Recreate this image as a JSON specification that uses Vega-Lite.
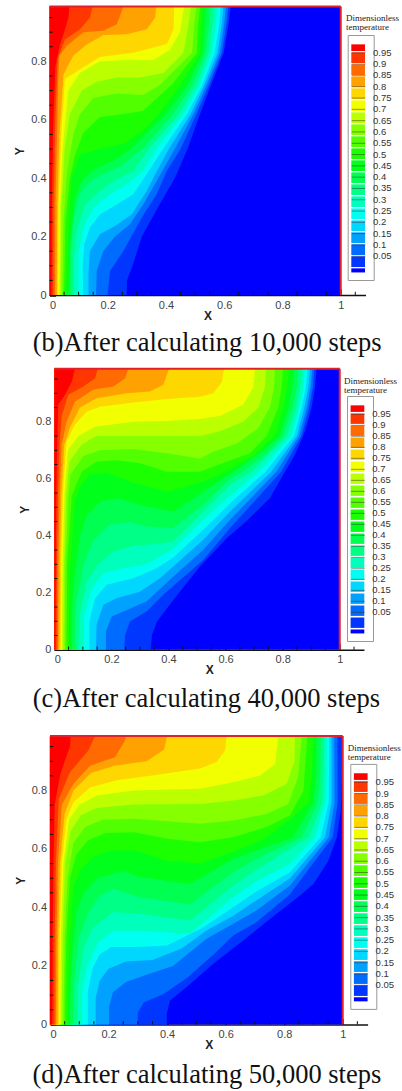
{"$schema":"https://vega.github.io/schema/vega-lite/v6.json","padding":{"left":13.5,"top":5.5,"right":0,"bottom":0},"background":"white","bounds":"flush","align":"none","spacing":73.3,"resolve":{"scale":{"color":"independent","stroke":"independent"},"legend":{"color":"independent","stroke":"independent"}},"config":{"view":{"stroke":null},"axis":{"zindex":1,"grid":false,"labelFont":"Liberation Sans","labelFontSize":11,"labelColor":"#444","tickColor":"#111","tickWidth":1.5,"tickSize":-6,"domainColor":"#111","domainWidth":1.5,"titleFont":"Liberation Sans","titleFontSize":12,"titleFontWeight":"bold","titleColor":"#222"},"legend":{"orient":"none","padding":1.3,"symbolSize":100,"labelOffset":13,"labelFont":"Liberation Sans","labelFontSize":9.5,"labelColor":"#333","labelBaseline":"middle","rowPadding":0}},"datasets":{"xm":[{"v":0.05},{"v":0.1},{"v":0.15},{"v":0.25},{"v":0.3},{"v":0.35},{"v":0.45},{"v":0.5},{"v":0.55},{"v":0.65},{"v":0.7},{"v":0.75},{"v":0.85},{"v":0.9},{"v":0.95},{"v":1.05}],"ym":[{"v":0.05},{"v":0.1},{"v":0.15},{"v":0.25},{"v":0.3},{"v":0.35},{"v":0.45},{"v":0.5},{"v":0.55},{"v":0.65},{"v":0.7},{"v":0.75},{"v":0.85},{"v":0.9},{"v":0.95}],
"b":[{"l":0,"x":0,"y":0},{"l":0,"x":1,"y":0},{"l":0,"x":1,"y":0.988},{"l":0,"x":0,"y":0.988},
{"l":0.05,"x":0.265,"y":0},{"l":0.05,"x":0.266,"y":0.05},{"l":0.05,"x":0.285,"y":0.1},{"l":0.05,"x":0.317,"y":0.2},{"l":0.05,"x":0.378,"y":0.31},{"l":0.05,"x":0.43,"y":0.4},{"l":0.05,"x":0.474,"y":0.5},{"l":0.05,"x":0.517,"y":0.62},{"l":0.05,"x":0.555,"y":0.72},{"l":0.05,"x":0.598,"y":0.83},{"l":0.05,"x":0.615,"y":0.93},{"l":0.05,"x":0.622,"y":0.988},{"l":0.05,"x":0,"y":0.988},{"l":0.05,"x":0,"y":0},
{"l":0.1,"x":0.199,"y":0},{"l":0.1,"x":0.208,"y":0.082},{"l":0.1,"x":0.254,"y":0.151},{"l":0.1,"x":0.282,"y":0.202},{"l":0.1,"x":0.323,"y":0.276},{"l":0.1,"x":0.368,"y":0.345},{"l":0.1,"x":0.403,"y":0.425},{"l":0.1,"x":0.45,"y":0.5},{"l":0.1,"x":0.505,"y":0.62},{"l":0.1,"x":0.548,"y":0.72},{"l":0.1,"x":0.592,"y":0.83},{"l":0.1,"x":0.608,"y":0.93},{"l":0.1,"x":0.614,"y":0.988},{"l":0.1,"x":0,"y":0.988},{"l":0.1,"x":0,"y":0},
{"l":0.15,"x":0.16,"y":0},{"l":0.15,"x":0.162,"y":0.082},{"l":0.15,"x":0.185,"y":0.151},{"l":0.15,"x":0.225,"y":0.2},{"l":0.15,"x":0.277,"y":0.243},{"l":0.15,"x":0.322,"y":0.31},{"l":0.15,"x":0.368,"y":0.39},{"l":0.15,"x":0.43,"y":0.5},{"l":0.15,"x":0.495,"y":0.62},{"l":0.15,"x":0.54,"y":0.72},{"l":0.15,"x":0.585,"y":0.83},{"l":0.15,"x":0.6,"y":0.93},{"l":0.15,"x":0.606,"y":0.988},{"l":0.15,"x":0,"y":0.988},{"l":0.15,"x":0,"y":0},
{"l":0.2,"x":0.134,"y":0},{"l":0.2,"x":0.134,"y":0.082},{"l":0.2,"x":0.139,"y":0.151},{"l":0.2,"x":0.173,"y":0.208},{"l":0.2,"x":0.225,"y":0.236},{"l":0.2,"x":0.282,"y":0.276},{"l":0.2,"x":0.334,"y":0.356},{"l":0.2,"x":0.357,"y":0.402},{"l":0.2,"x":0.41,"y":0.5},{"l":0.2,"x":0.485,"y":0.62},{"l":0.2,"x":0.532,"y":0.72},{"l":0.2,"x":0.577,"y":0.83},{"l":0.2,"x":0.592,"y":0.93},{"l":0.2,"x":0.597,"y":0.988},{"l":0.2,"x":0,"y":0.988},{"l":0.2,"x":0,"y":0},
{"l":0.25,"x":0.116,"y":0},{"l":0.25,"x":0.114,"y":0.094},{"l":0.25,"x":0.119,"y":0.173},{"l":0.25,"x":0.139,"y":0.23},{"l":0.25,"x":0.173,"y":0.276},{"l":0.25,"x":0.231,"y":0.31},{"l":0.25,"x":0.288,"y":0.345},{"l":0.25,"x":0.334,"y":0.414},{"l":0.25,"x":0.39,"y":0.5},{"l":0.25,"x":0.472,"y":0.62},{"l":0.25,"x":0.525,"y":0.72},{"l":0.25,"x":0.567,"y":0.83},{"l":0.25,"x":0.583,"y":0.93},{"l":0.25,"x":0.588,"y":0.988},{"l":0.25,"x":0,"y":0.988},{"l":0.25,"x":0,"y":0},
{"l":0.3,"x":0.099,"y":0},{"l":0.3,"x":0.099,"y":0.139},{"l":0.3,"x":0.116,"y":0.23},{"l":0.3,"x":0.151,"y":0.3},{"l":0.3,"x":0.208,"y":0.345},{"l":0.3,"x":0.265,"y":0.38},{"l":0.3,"x":0.322,"y":0.425},{"l":0.3,"x":0.365,"y":0.5},{"l":0.3,"x":0.46,"y":0.62},{"l":0.3,"x":0.517,"y":0.72},{"l":0.3,"x":0.557,"y":0.83},{"l":0.3,"x":0.572,"y":0.93},{"l":0.3,"x":0.577,"y":0.988},{"l":0.3,"x":0,"y":0.988},{"l":0.3,"x":0,"y":0},
{"l":0.35,"x":0.084,"y":0},{"l":0.35,"x":0.084,"y":0.139},{"l":0.35,"x":0.096,"y":0.23},{"l":0.35,"x":0.122,"y":0.31},{"l":0.35,"x":0.173,"y":0.356},{"l":0.35,"x":0.219,"y":0.39},{"l":0.35,"x":0.288,"y":0.425},{"l":0.35,"x":0.34,"y":0.5},{"l":0.35,"x":0.445,"y":0.62},{"l":0.35,"x":0.505,"y":0.72},{"l":0.35,"x":0.547,"y":0.83},{"l":0.35,"x":0.56,"y":0.93},{"l":0.35,"x":0.565,"y":0.988},{"l":0.35,"x":0,"y":0.988},{"l":0.35,"x":0,"y":0},
{"l":0.4,"x":0.073,"y":0},{"l":0.4,"x":0.073,"y":0.139},{"l":0.4,"x":0.082,"y":0.253},{"l":0.4,"x":0.103,"y":0.345},{"l":0.4,"x":0.139,"y":0.39},{"l":0.4,"x":0.185,"y":0.414},{"l":0.4,"x":0.242,"y":0.44},{"l":0.4,"x":0.32,"y":0.5},{"l":0.4,"x":0.425,"y":0.62},{"l":0.4,"x":0.49,"y":0.72},{"l":0.4,"x":0.537,"y":0.83},{"l":0.4,"x":0.548,"y":0.93},{"l":0.4,"x":0.552,"y":0.988},{"l":0.4,"x":0,"y":0.988},{"l":0.4,"x":0,"y":0},
{"l":0.45,"x":0.065,"y":0},{"l":0.45,"x":0.072,"y":0.2},{"l":0.45,"x":0.088,"y":0.33},{"l":0.45,"x":0.11,"y":0.39},{"l":0.45,"x":0.15,"y":0.43},{"l":0.45,"x":0.22,"y":0.46},{"l":0.45,"x":0.28,"y":0.5},{"l":0.45,"x":0.4,"y":0.62},{"l":0.45,"x":0.475,"y":0.72},{"l":0.45,"x":0.527,"y":0.83},{"l":0.45,"x":0.535,"y":0.93},{"l":0.45,"x":0.54,"y":0.988},{"l":0.45,"x":0,"y":0.988},{"l":0.45,"x":0,"y":0},
{"l":0.5,"x":0.057,"y":0},{"l":0.5,"x":0.064,"y":0.2},{"l":0.5,"x":0.076,"y":0.4},{"l":0.5,"x":0.105,"y":0.48},{"l":0.5,"x":0.173,"y":0.5},{"l":0.5,"x":0.26,"y":0.52},{"l":0.5,"x":0.33,"y":0.57},{"l":0.5,"x":0.375,"y":0.62},{"l":0.5,"x":0.45,"y":0.72},{"l":0.5,"x":0.517,"y":0.83},{"l":0.5,"x":0.52,"y":0.93},{"l":0.5,"x":0.523,"y":0.988},{"l":0.5,"x":0,"y":0.988},{"l":0.5,"x":0,"y":0},
{"l":0.55,"x":0.05,"y":0},{"l":0.55,"x":0.055,"y":0.25},{"l":0.55,"x":0.07,"y":0.4},{"l":0.55,"x":0.088,"y":0.48},{"l":0.55,"x":0.116,"y":0.555},{"l":0.55,"x":0.173,"y":0.61},{"l":0.55,"x":0.254,"y":0.62},{"l":0.55,"x":0.32,"y":0.63},{"l":0.55,"x":0.42,"y":0.72},{"l":0.55,"x":0.506,"y":0.83},{"l":0.55,"x":0.51,"y":0.93},{"l":0.55,"x":0.518,"y":0.988},{"l":0.55,"x":0,"y":0.988},{"l":0.55,"x":0,"y":0},
{"l":0.6,"x":0.044,"y":0},{"l":0.6,"x":0.048,"y":0.25},{"l":0.6,"x":0.06,"y":0.42},{"l":0.6,"x":0.082,"y":0.55},{"l":0.6,"x":0.105,"y":0.62},{"l":0.6,"x":0.151,"y":0.675},{"l":0.6,"x":0.231,"y":0.69},{"l":0.6,"x":0.322,"y":0.685},{"l":0.6,"x":0.38,"y":0.72},{"l":0.6,"x":0.49,"y":0.83},{"l":0.6,"x":0.497,"y":0.93},{"l":0.6,"x":0.505,"y":0.988},{"l":0.6,"x":0,"y":0.988},{"l":0.6,"x":0,"y":0},
{"l":0.65,"x":0.038,"y":0},{"l":0.65,"x":0.041,"y":0.3},{"l":0.65,"x":0.052,"y":0.5},{"l":0.65,"x":0.07,"y":0.62},{"l":0.65,"x":0.111,"y":0.7},{"l":0.65,"x":0.162,"y":0.73},{"l":0.65,"x":0.231,"y":0.745},{"l":0.65,"x":0.311,"y":0.745},{"l":0.65,"x":0.391,"y":0.76},{"l":0.65,"x":0.46,"y":0.83},{"l":0.65,"x":0.478,"y":0.93},{"l":0.65,"x":0.486,"y":0.988},{"l":0.65,"x":0,"y":0.988},{"l":0.65,"x":0,"y":0},
{"l":0.7,"x":0.034,"y":0},{"l":0.7,"x":0.036,"y":0.3},{"l":0.7,"x":0.045,"y":0.5},{"l":0.7,"x":0.065,"y":0.7},{"l":0.7,"x":0.105,"y":0.76},{"l":0.7,"x":0.173,"y":0.8},{"l":0.7,"x":0.265,"y":0.805},{"l":0.7,"x":0.357,"y":0.805},{"l":0.7,"x":0.414,"y":0.84},{"l":0.7,"x":0.448,"y":0.9},{"l":0.7,"x":0.462,"y":0.988},{"l":0.7,"x":0,"y":0.988},{"l":0.7,"x":0,"y":0},
{"l":0.75,"x":0.029,"y":0},{"l":0.75,"x":0.031,"y":0.3},{"l":0.75,"x":0.04,"y":0.55},{"l":0.75,"x":0.053,"y":0.74},{"l":0.75,"x":0.116,"y":0.78},{"l":0.75,"x":0.173,"y":0.815},{"l":0.75,"x":0.288,"y":0.83},{"l":0.75,"x":0.403,"y":0.86},{"l":0.75,"x":0.426,"y":0.91},{"l":0.75,"x":0.428,"y":0.988},{"l":0.75,"x":0,"y":0.988},{"l":0.75,"x":0,"y":0},
{"l":0.8,"x":0.025,"y":0},{"l":0.8,"x":0.027,"y":0.3},{"l":0.8,"x":0.034,"y":0.55},{"l":0.8,"x":0.048,"y":0.755},{"l":0.8,"x":0.082,"y":0.82},{"l":0.8,"x":0.128,"y":0.858},{"l":0.8,"x":0.185,"y":0.89},{"l":0.8,"x":0.265,"y":0.893},{"l":0.8,"x":0.334,"y":0.91},{"l":0.8,"x":0.363,"y":0.95},{"l":0.8,"x":0.366,"y":0.988},{"l":0.8,"x":0,"y":0.988},{"l":0.8,"x":0,"y":0},
{"l":0.85,"x":0.019,"y":0},{"l":0.85,"x":0.02,"y":0.3},{"l":0.85,"x":0.026,"y":0.55},{"l":0.85,"x":0.03,"y":0.74},{"l":0.85,"x":0.034,"y":0.82},{"l":0.85,"x":0.059,"y":0.853},{"l":0.85,"x":0.116,"y":0.9},{"l":0.85,"x":0.185,"y":0.905},{"l":0.85,"x":0.231,"y":0.927},{"l":0.85,"x":0.254,"y":0.988},{"l":0.85,"x":0,"y":0.988},{"l":0.85,"x":0,"y":0},
{"l":0.9,"x":0.013,"y":0},{"l":0.9,"x":0.014,"y":0.3},{"l":0.9,"x":0.02,"y":0.6},{"l":0.9,"x":0.028,"y":0.81},{"l":0.9,"x":0.053,"y":0.875},{"l":0.9,"x":0.105,"y":0.91},{"l":0.9,"x":0.139,"y":0.95},{"l":0.9,"x":0.148,"y":0.988},{"l":0.9,"x":0,"y":0.988},{"l":0.9,"x":0,"y":0},
{"l":0.95,"x":0.007,"y":0},{"l":0.95,"x":0.008,"y":0.3},{"l":0.95,"x":0.012,"y":0.55},{"l":0.95,"x":0.02,"y":0.78},{"l":0.95,"x":0.034,"y":0.85},{"l":0.95,"x":0.048,"y":0.893},{"l":0.95,"x":0.065,"y":0.95},{"l":0.95,"x":0.068,"y":0.988},{"l":0.95,"x":0,"y":0.988},{"l":0.95,"x":0,"y":0}],
"c":[{"l":0,"x":0,"y":0},{"l":0,"x":1,"y":0},{"l":0,"x":1,"y":0.986},{"l":0,"x":0,"y":0.986},
{"l":0.05,"x":0.338,"y":0},{"l":0.05,"x":0.342,"y":0.052},{"l":0.05,"x":0.36,"y":0.099},{"l":0.05,"x":0.417,"y":0.175},{"l":0.05,"x":0.51,"y":0.292},{"l":0.05,"x":0.604,"y":0.391},{"l":0.05,"x":0.672,"y":0.45},{"l":0.05,"x":0.755,"y":0.532},{"l":0.05,"x":0.802,"y":0.614},{"l":0.05,"x":0.843,"y":0.684},{"l":0.05,"x":0.878,"y":0.766},{"l":0.05,"x":0.901,"y":0.848},{"l":0.05,"x":0.913,"y":0.918},{"l":0.05,"x":0.919,"y":0.986},{"l":0.05,"x":0,"y":0.986},{"l":0.05,"x":0,"y":0},
{"l":0.1,"x":0.245,"y":0},{"l":0.1,"x":0.248,"y":0.052},{"l":0.1,"x":0.265,"y":0.099},{"l":0.1,"x":0.324,"y":0.135},{"l":0.1,"x":0.382,"y":0.193},{"l":0.1,"x":0.522,"y":0.315},{"l":0.1,"x":0.616,"y":0.427},{"l":0.1,"x":0.795,"y":0.625},{"l":0.1,"x":0.866,"y":0.75},{"l":0.1,"x":0.893,"y":0.85},{"l":0.1,"x":0.906,"y":0.92},{"l":0.1,"x":0.911,"y":0.986},{"l":0.1,"x":0,"y":0.986},{"l":0.1,"x":0,"y":0},
{"l":0.15,"x":0.181,"y":0},{"l":0.15,"x":0.181,"y":0.064},{"l":0.15,"x":0.201,"y":0.117},{"l":0.15,"x":0.254,"y":0.14},{"l":0.15,"x":0.324,"y":0.17},{"l":0.15,"x":0.405,"y":0.246},{"l":0.15,"x":0.522,"y":0.351},{"l":0.15,"x":0.616,"y":0.456},{"l":0.15,"x":0.778,"y":0.625},{"l":0.15,"x":0.858,"y":0.75},{"l":0.15,"x":0.885,"y":0.85},{"l":0.15,"x":0.898,"y":0.92},{"l":0.15,"x":0.904,"y":0.986},{"l":0.15,"x":0,"y":0.986},{"l":0.15,"x":0,"y":0},
{"l":0.2,"x":0.146,"y":0},{"l":0.2,"x":0.148,"y":0.088},{"l":0.2,"x":0.172,"y":0.158},{"l":0.2,"x":0.218,"y":0.181},{"l":0.2,"x":0.3,"y":0.204},{"l":0.2,"x":0.37,"y":0.251},{"l":0.2,"x":0.417,"y":0.292},{"l":0.2,"x":0.522,"y":0.386},{"l":0.2,"x":0.616,"y":0.485},{"l":0.2,"x":0.76,"y":0.625},{"l":0.2,"x":0.85,"y":0.75},{"l":0.2,"x":0.876,"y":0.85},{"l":0.2,"x":0.89,"y":0.92},{"l":0.2,"x":0.896,"y":0.986},{"l":0.2,"x":0,"y":0.986},{"l":0.2,"x":0,"y":0},
{"l":0.25,"x":0.123,"y":0},{"l":0.25,"x":0.123,"y":0.099},{"l":0.25,"x":0.143,"y":0.181},{"l":0.25,"x":0.183,"y":0.228},{"l":0.25,"x":0.277,"y":0.251},{"l":0.25,"x":0.359,"y":0.286},{"l":0.25,"x":0.417,"y":0.324},{"l":0.25,"x":0.522,"y":0.421},{"l":0.25,"x":0.616,"y":0.514},{"l":0.25,"x":0.74,"y":0.625},{"l":0.25,"x":0.84,"y":0.75},{"l":0.25,"x":0.867,"y":0.85},{"l":0.25,"x":0.881,"y":0.92},{"l":0.25,"x":0.887,"y":0.986},{"l":0.25,"x":0,"y":0.986},{"l":0.25,"x":0,"y":0},
{"l":0.3,"x":0.102,"y":0},{"l":0.3,"x":0.104,"y":0.123},{"l":0.3,"x":0.131,"y":0.216},{"l":0.3,"x":0.172,"y":0.269},{"l":0.3,"x":0.242,"y":0.286},{"l":0.3,"x":0.323,"y":0.3},{"l":0.3,"x":0.417,"y":0.354},{"l":0.3,"x":0.522,"y":0.456},{"l":0.3,"x":0.616,"y":0.541},{"l":0.3,"x":0.715,"y":0.625},{"l":0.3,"x":0.83,"y":0.75},{"l":0.3,"x":0.858,"y":0.85},{"l":0.3,"x":0.872,"y":0.92},{"l":0.3,"x":0.878,"y":0.986},{"l":0.3,"x":0,"y":0.986},{"l":0.3,"x":0,"y":0},
{"l":0.35,"x":0.084,"y":0},{"l":0.35,"x":0.088,"y":0.123},{"l":0.35,"x":0.113,"y":0.239},{"l":0.35,"x":0.154,"y":0.3},{"l":0.35,"x":0.207,"y":0.345},{"l":0.35,"x":0.277,"y":0.365},{"l":0.35,"x":0.347,"y":0.37},{"l":0.35,"x":0.417,"y":0.38},{"l":0.35,"x":0.522,"y":0.485},{"l":0.35,"x":0.616,"y":0.579},{"l":0.35,"x":0.69,"y":0.625},{"l":0.35,"x":0.815,"y":0.75},{"l":0.35,"x":0.848,"y":0.85},{"l":0.35,"x":0.861,"y":0.92},{"l":0.35,"x":0.867,"y":0.986},{"l":0.35,"x":0,"y":0.986},{"l":0.35,"x":0,"y":0},
{"l":0.4,"x":0.072,"y":0},{"l":0.4,"x":0.076,"y":0.158},{"l":0.4,"x":0.102,"y":0.298},{"l":0.4,"x":0.137,"y":0.385},{"l":0.4,"x":0.195,"y":0.44},{"l":0.4,"x":0.265,"y":0.448},{"l":0.4,"x":0.323,"y":0.433},{"l":0.4,"x":0.417,"y":0.427},{"l":0.4,"x":0.522,"y":0.51},{"l":0.4,"x":0.616,"y":0.6},{"l":0.4,"x":0.66,"y":0.625},{"l":0.4,"x":0.745,"y":0.69},{"l":0.4,"x":0.8,"y":0.75},{"l":0.4,"x":0.836,"y":0.85},{"l":0.4,"x":0.849,"y":0.92},{"l":0.4,"x":0.855,"y":0.986},{"l":0.4,"x":0,"y":0.986},{"l":0.4,"x":0,"y":0},
{"l":0.45,"x":0.061,"y":0},{"l":0.45,"x":0.064,"y":0.193},{"l":0.45,"x":0.09,"y":0.4},{"l":0.45,"x":0.113,"y":0.47},{"l":0.45,"x":0.16,"y":0.52},{"l":0.45,"x":0.218,"y":0.532},{"l":0.45,"x":0.323,"y":0.503},{"l":0.45,"x":0.417,"y":0.485},{"l":0.45,"x":0.522,"y":0.555},{"l":0.45,"x":0.627,"y":0.625},{"l":0.45,"x":0.72,"y":0.69},{"l":0.45,"x":0.79,"y":0.75},{"l":0.45,"x":0.821,"y":0.85},{"l":0.45,"x":0.834,"y":0.92},{"l":0.45,"x":0.84,"y":0.986},{"l":0.45,"x":0,"y":0.986},{"l":0.45,"x":0,"y":0},
{"l":0.5,"x":0.051,"y":0},{"l":0.5,"x":0.053,"y":0.25},{"l":0.5,"x":0.072,"y":0.52},{"l":0.5,"x":0.09,"y":0.57},{"l":0.5,"x":0.125,"y":0.615},{"l":0.5,"x":0.183,"y":0.62},{"l":0.5,"x":0.277,"y":0.585},{"l":0.5,"x":0.394,"y":0.555},{"l":0.5,"x":0.522,"y":0.59},{"l":0.5,"x":0.6,"y":0.625},{"l":0.5,"x":0.7,"y":0.68},{"l":0.5,"x":0.773,"y":0.75},{"l":0.5,"x":0.803,"y":0.85},{"l":0.5,"x":0.816,"y":0.92},{"l":0.5,"x":0.823,"y":0.986},{"l":0.5,"x":0,"y":0.986},{"l":0.5,"x":0,"y":0},
{"l":0.55,"x":0.043,"y":0},{"l":0.55,"x":0.045,"y":0.3},{"l":0.55,"x":0.061,"y":0.54},{"l":0.55,"x":0.096,"y":0.625},{"l":0.55,"x":0.148,"y":0.66},{"l":0.55,"x":0.218,"y":0.665},{"l":0.55,"x":0.3,"y":0.655},{"l":0.55,"x":0.394,"y":0.625},{"l":0.55,"x":0.51,"y":0.625},{"l":0.55,"x":0.604,"y":0.66},{"l":0.55,"x":0.685,"y":0.69},{"l":0.55,"x":0.744,"y":0.75},{"l":0.55,"x":0.785,"y":0.85},{"l":0.55,"x":0.796,"y":0.92},{"l":0.55,"x":0.802,"y":0.986},{"l":0.55,"x":0,"y":0.986},{"l":0.55,"x":0,"y":0},
{"l":0.6,"x":0.037,"y":0},{"l":0.6,"x":0.039,"y":0.3},{"l":0.6,"x":0.05,"y":0.55},{"l":0.6,"x":0.057,"y":0.615},{"l":0.6,"x":0.102,"y":0.68},{"l":0.6,"x":0.16,"y":0.7},{"l":0.6,"x":0.277,"y":0.705},{"l":0.6,"x":0.394,"y":0.69},{"l":0.6,"x":0.51,"y":0.67},{"l":0.6,"x":0.557,"y":0.695},{"l":0.6,"x":0.639,"y":0.724},{"l":0.6,"x":0.715,"y":0.777},{"l":0.6,"x":0.755,"y":0.85},{"l":0.6,"x":0.77,"y":0.92},{"l":0.6,"x":0.773,"y":0.986},{"l":0.6,"x":0,"y":0.986},{"l":0.6,"x":0,"y":0},
{"l":0.65,"x":0.032,"y":0},{"l":0.65,"x":0.034,"y":0.3},{"l":0.65,"x":0.042,"y":0.55},{"l":0.65,"x":0.053,"y":0.66},{"l":0.65,"x":0.096,"y":0.72},{"l":0.65,"x":0.148,"y":0.75},{"l":0.65,"x":0.277,"y":0.75},{"l":0.65,"x":0.394,"y":0.75},{"l":0.65,"x":0.51,"y":0.75},{"l":0.65,"x":0.58,"y":0.767},{"l":0.65,"x":0.662,"y":0.8},{"l":0.65,"x":0.715,"y":0.85},{"l":0.65,"x":0.738,"y":0.92},{"l":0.65,"x":0.742,"y":0.986},{"l":0.65,"x":0,"y":0.986},{"l":0.65,"x":0,"y":0},
{"l":0.7,"x":0.027,"y":0},{"l":0.7,"x":0.029,"y":0.3},{"l":0.7,"x":0.036,"y":0.55},{"l":0.7,"x":0.048,"y":0.7},{"l":0.7,"x":0.084,"y":0.75},{"l":0.7,"x":0.143,"y":0.783},{"l":0.7,"x":0.277,"y":0.8},{"l":0.7,"x":0.394,"y":0.803},{"l":0.7,"x":0.51,"y":0.81},{"l":0.7,"x":0.58,"y":0.82},{"l":0.7,"x":0.662,"y":0.86},{"l":0.7,"x":0.697,"y":0.92},{"l":0.7,"x":0.703,"y":0.986},{"l":0.7,"x":0,"y":0.986},{"l":0.7,"x":0,"y":0},
{"l":0.75,"x":0.022,"y":0},{"l":0.75,"x":0.024,"y":0.3},{"l":0.75,"x":0.03,"y":0.55},{"l":0.75,"x":0.043,"y":0.73},{"l":0.75,"x":0.072,"y":0.79},{"l":0.75,"x":0.113,"y":0.835},{"l":0.75,"x":0.16,"y":0.853},{"l":0.75,"x":0.277,"y":0.868},{"l":0.75,"x":0.394,"y":0.88},{"l":0.75,"x":0.51,"y":0.888},{"l":0.75,"x":0.557,"y":0.9},{"l":0.75,"x":0.587,"y":0.94},{"l":0.75,"x":0.595,"y":0.986},{"l":0.75,"x":0,"y":0.986},{"l":0.75,"x":0,"y":0},
{"l":0.8,"x":0.018,"y":0},{"l":0.8,"x":0.019,"y":0.3},{"l":0.8,"x":0.025,"y":0.55},{"l":0.8,"x":0.035,"y":0.72},{"l":0.8,"x":0.055,"y":0.78},{"l":0.8,"x":0.09,"y":0.85},{"l":0.8,"x":0.148,"y":0.883},{"l":0.8,"x":0.253,"y":0.9},{"l":0.8,"x":0.335,"y":0.906},{"l":0.8,"x":0.382,"y":0.93},{"l":0.8,"x":0.402,"y":0.986},{"l":0.8,"x":0,"y":0.986},{"l":0.8,"x":0,"y":0},
{"l":0.85,"x":0.013,"y":0},{"l":0.85,"x":0.014,"y":0.3},{"l":0.85,"x":0.019,"y":0.55},{"l":0.85,"x":0.026,"y":0.72},{"l":0.85,"x":0.043,"y":0.8},{"l":0.85,"x":0.072,"y":0.87},{"l":0.85,"x":0.137,"y":0.913},{"l":0.85,"x":0.207,"y":0.924},{"l":0.85,"x":0.248,"y":0.953},{"l":0.85,"x":0.259,"y":0.986},{"l":0.85,"x":0,"y":0.986},{"l":0.85,"x":0,"y":0},
{"l":0.9,"x":0.008,"y":0},{"l":0.9,"x":0.009,"y":0.3},{"l":0.9,"x":0.013,"y":0.55},{"l":0.9,"x":0.018,"y":0.72},{"l":0.9,"x":0.026,"y":0.82},{"l":0.9,"x":0.049,"y":0.895},{"l":0.9,"x":0.102,"y":0.924},{"l":0.9,"x":0.143,"y":0.953},{"l":0.9,"x":0.152,"y":0.986},{"l":0.9,"x":0,"y":0.986},{"l":0.9,"x":0,"y":0},
{"l":0.95,"x":0.004,"y":0},{"l":0.95,"x":0.005,"y":0.3},{"l":0.95,"x":0.007,"y":0.55},{"l":0.95,"x":0.01,"y":0.72},{"l":0.95,"x":0.014,"y":0.86},{"l":0.95,"x":0.037,"y":0.895},{"l":0.95,"x":0.061,"y":0.94},{"l":0.95,"x":0.072,"y":0.986},{"l":0.95,"x":0,"y":0.986},{"l":0.95,"x":0,"y":0}],
"d":[{"l":0,"x":0,"y":0},{"l":0,"x":1,"y":0},{"l":0,"x":1,"y":0.986},{"l":0,"x":0,"y":0.986},
{"l":0.05,"x":0.399,"y":0},{"l":0.05,"x":0.399,"y":0.037},{"l":0.05,"x":0.41,"y":0.082},{"l":0.05,"x":0.467,"y":0.128},{"l":0.05,"x":0.558,"y":0.207},{"l":0.05,"x":0.66,"y":0.287},{"l":0.05,"x":0.76,"y":0.367},{"l":0.05,"x":0.854,"y":0.441},{"l":0.05,"x":0.9,"y":0.48},{"l":0.05,"x":0.951,"y":0.56},{"l":0.05,"x":0.98,"y":0.64},{"l":0.05,"x":0.993,"y":0.73},{"l":0.05,"x":0.998,"y":0.85},{"l":0.05,"x":0.998,"y":0.986},{"l":0.05,"x":0,"y":0.986},{"l":0.05,"x":0,"y":0},
{"l":0.1,"x":0.3,"y":0},{"l":0.1,"x":0.3,"y":0.04},{"l":0.1,"x":0.32,"y":0.075},{"l":0.1,"x":0.39,"y":0.105},{"l":0.1,"x":0.47,"y":0.16},{"l":0.1,"x":0.56,"y":0.24},{"l":0.1,"x":0.626,"y":0.304},{"l":0.1,"x":0.706,"y":0.35},{"l":0.1,"x":0.82,"y":0.445},{"l":0.1,"x":0.966,"y":0.64},{"l":0.1,"x":0.983,"y":0.76},{"l":0.1,"x":0.982,"y":0.986},{"l":0.1,"x":0,"y":0.986},{"l":0.1,"x":0,"y":0},
{"l":0.15,"x":0.202,"y":0},{"l":0.15,"x":0.202,"y":0.06},{"l":0.15,"x":0.215,"y":0.11},{"l":0.15,"x":0.26,"y":0.145},{"l":0.15,"x":0.33,"y":0.17},{"l":0.15,"x":0.42,"y":0.2},{"l":0.15,"x":0.535,"y":0.293},{"l":0.15,"x":0.626,"y":0.344},{"l":0.15,"x":0.706,"y":0.39},{"l":0.15,"x":0.82,"y":0.475},{"l":0.15,"x":0.953,"y":0.64},{"l":0.15,"x":0.972,"y":0.76},{"l":0.15,"x":0.971,"y":0.986},{"l":0.15,"x":0,"y":0.986},{"l":0.15,"x":0,"y":0},
{"l":0.2,"x":0.156,"y":0},{"l":0.2,"x":0.156,"y":0.09},{"l":0.2,"x":0.17,"y":0.15},{"l":0.2,"x":0.2,"y":0.19},{"l":0.2,"x":0.26,"y":0.215},{"l":0.2,"x":0.35,"y":0.22},{"l":0.2,"x":0.45,"y":0.26},{"l":0.2,"x":0.535,"y":0.321},{"l":0.2,"x":0.626,"y":0.372},{"l":0.2,"x":0.706,"y":0.425},{"l":0.2,"x":0.82,"y":0.5},{"l":0.2,"x":0.94,"y":0.64},{"l":0.2,"x":0.962,"y":0.76},{"l":0.2,"x":0.962,"y":0.986},{"l":0.2,"x":0,"y":0.986},{"l":0.2,"x":0,"y":0},
{"l":0.25,"x":0.129,"y":0},{"l":0.25,"x":0.129,"y":0.11},{"l":0.25,"x":0.145,"y":0.19},{"l":0.25,"x":0.17,"y":0.24},{"l":0.25,"x":0.21,"y":0.265},{"l":0.25,"x":0.3,"y":0.265},{"l":0.25,"x":0.4,"y":0.27},{"l":0.25,"x":0.52,"y":0.33},{"l":0.25,"x":0.626,"y":0.401},{"l":0.25,"x":0.706,"y":0.455},{"l":0.25,"x":0.82,"y":0.52},{"l":0.25,"x":0.925,"y":0.64},{"l":0.25,"x":0.952,"y":0.76},{"l":0.25,"x":0.954,"y":0.986},{"l":0.25,"x":0,"y":0.986},{"l":0.25,"x":0,"y":0},
{"l":0.3,"x":0.11,"y":0},{"l":0.3,"x":0.11,"y":0.12},{"l":0.3,"x":0.13,"y":0.21},{"l":0.3,"x":0.165,"y":0.28},{"l":0.3,"x":0.216,"y":0.32},{"l":0.3,"x":0.307,"y":0.32},{"l":0.3,"x":0.478,"y":0.31},{"l":0.3,"x":0.626,"y":0.435},{"l":0.3,"x":0.706,"y":0.49},{"l":0.3,"x":0.82,"y":0.55},{"l":0.3,"x":0.905,"y":0.64},{"l":0.3,"x":0.94,"y":0.76},{"l":0.3,"x":0.945,"y":0.86},{"l":0.3,"x":0.945,"y":0.986},{"l":0.3,"x":0,"y":0.986},{"l":0.3,"x":0,"y":0},
{"l":0.35,"x":0.093,"y":0},{"l":0.35,"x":0.095,"y":0.13},{"l":0.35,"x":0.115,"y":0.26},{"l":0.35,"x":0.145,"y":0.33},{"l":0.35,"x":0.216,"y":0.384},{"l":0.35,"x":0.307,"y":0.378},{"l":0.35,"x":0.478,"y":0.355},{"l":0.35,"x":0.626,"y":0.475},{"l":0.35,"x":0.706,"y":0.53},{"l":0.35,"x":0.82,"y":0.6},{"l":0.35,"x":0.885,"y":0.64},{"l":0.35,"x":0.93,"y":0.76},{"l":0.35,"x":0.935,"y":0.86},{"l":0.35,"x":0.936,"y":0.986},{"l":0.35,"x":0,"y":0.986},{"l":0.35,"x":0,"y":0},
{"l":0.4,"x":0.08,"y":0},{"l":0.4,"x":0.082,"y":0.15},{"l":0.4,"x":0.1,"y":0.3},{"l":0.4,"x":0.13,"y":0.38},{"l":0.4,"x":0.17,"y":0.44},{"l":0.4,"x":0.216,"y":0.464},{"l":0.4,"x":0.307,"y":0.435},{"l":0.4,"x":0.478,"y":0.41},{"l":0.4,"x":0.626,"y":0.52},{"l":0.4,"x":0.706,"y":0.566},{"l":0.4,"x":0.86,"y":0.64},{"l":0.4,"x":0.915,"y":0.76},{"l":0.4,"x":0.923,"y":0.86},{"l":0.4,"x":0.925,"y":0.986},{"l":0.4,"x":0,"y":0.986},{"l":0.4,"x":0,"y":0},
{"l":0.45,"x":0.068,"y":0},{"l":0.45,"x":0.072,"y":0.2},{"l":0.45,"x":0.09,"y":0.38},{"l":0.45,"x":0.115,"y":0.45},{"l":0.45,"x":0.16,"y":0.5},{"l":0.45,"x":0.25,"y":0.525},{"l":0.45,"x":0.307,"y":0.504},{"l":0.45,"x":0.478,"y":0.48},{"l":0.45,"x":0.626,"y":0.566},{"l":0.45,"x":0.706,"y":0.595},{"l":0.45,"x":0.83,"y":0.64},{"l":0.45,"x":0.9,"y":0.76},{"l":0.45,"x":0.91,"y":0.86},{"l":0.45,"x":0.911,"y":0.986},{"l":0.45,"x":0,"y":0.986},{"l":0.45,"x":0,"y":0},
{"l":0.5,"x":0.059,"y":0},{"l":0.5,"x":0.065,"y":0.25},{"l":0.5,"x":0.08,"y":0.47},{"l":0.5,"x":0.105,"y":0.53},{"l":0.5,"x":0.15,"y":0.575},{"l":0.5,"x":0.21,"y":0.595},{"l":0.5,"x":0.285,"y":0.595},{"l":0.5,"x":0.4,"y":0.56},{"l":0.5,"x":0.513,"y":0.55},{"l":0.5,"x":0.626,"y":0.59},{"l":0.5,"x":0.73,"y":0.633},{"l":0.5,"x":0.82,"y":0.7},{"l":0.5,"x":0.885,"y":0.76},{"l":0.5,"x":0.895,"y":0.86},{"l":0.5,"x":0.9,"y":0.986},{"l":0.5,"x":0,"y":0.986},{"l":0.5,"x":0,"y":0},
{"l":0.55,"x":0.051,"y":0},{"l":0.55,"x":0.056,"y":0.3},{"l":0.55,"x":0.068,"y":0.5},{"l":0.55,"x":0.09,"y":0.58},{"l":0.55,"x":0.13,"y":0.63},{"l":0.55,"x":0.19,"y":0.655},{"l":0.55,"x":0.285,"y":0.657},{"l":0.55,"x":0.4,"y":0.635},{"l":0.55,"x":0.513,"y":0.623},{"l":0.55,"x":0.626,"y":0.64},{"l":0.55,"x":0.74,"y":0.675},{"l":0.55,"x":0.82,"y":0.715},{"l":0.55,"x":0.866,"y":0.8},{"l":0.55,"x":0.879,"y":0.986},{"l":0.55,"x":0,"y":0.986},{"l":0.55,"x":0,"y":0},
{"l":0.6,"x":0.046,"y":0},{"l":0.6,"x":0.05,"y":0.3},{"l":0.6,"x":0.06,"y":0.5},{"l":0.6,"x":0.08,"y":0.62},{"l":0.6,"x":0.12,"y":0.675},{"l":0.6,"x":0.18,"y":0.7},{"l":0.6,"x":0.285,"y":0.703},{"l":0.6,"x":0.513,"y":0.686},{"l":0.6,"x":0.626,"y":0.697},{"l":0.6,"x":0.74,"y":0.72},{"l":0.6,"x":0.814,"y":0.754},{"l":0.6,"x":0.848,"y":0.846},{"l":0.6,"x":0.86,"y":0.986},{"l":0.6,"x":0,"y":0.986},{"l":0.6,"x":0,"y":0},
{"l":0.65,"x":0.04,"y":0},{"l":0.65,"x":0.043,"y":0.3},{"l":0.65,"x":0.052,"y":0.55},{"l":0.65,"x":0.07,"y":0.66},{"l":0.65,"x":0.105,"y":0.715},{"l":0.65,"x":0.16,"y":0.74},{"l":0.65,"x":0.285,"y":0.752},{"l":0.65,"x":0.513,"y":0.754},{"l":0.65,"x":0.626,"y":0.766},{"l":0.65,"x":0.729,"y":0.783},{"l":0.65,"x":0.809,"y":0.823},{"l":0.65,"x":0.835,"y":0.9},{"l":0.65,"x":0.837,"y":0.986},{"l":0.65,"x":0,"y":0.986},{"l":0.65,"x":0,"y":0},
{"l":0.7,"x":0.035,"y":0},{"l":0.7,"x":0.037,"y":0.3},{"l":0.7,"x":0.046,"y":0.55},{"l":0.7,"x":0.065,"y":0.7},{"l":0.7,"x":0.1,"y":0.75},{"l":0.7,"x":0.16,"y":0.783},{"l":0.7,"x":0.285,"y":0.8},{"l":0.7,"x":0.513,"y":0.806},{"l":0.7,"x":0.626,"y":0.828},{"l":0.7,"x":0.717,"y":0.85},{"l":0.7,"x":0.769,"y":0.891},{"l":0.7,"x":0.78,"y":0.986},{"l":0.7,"x":0,"y":0.986},{"l":0.7,"x":0,"y":0},
{"l":0.75,"x":0.031,"y":0},{"l":0.75,"x":0.033,"y":0.3},{"l":0.75,"x":0.04,"y":0.55},{"l":0.75,"x":0.056,"y":0.7},{"l":0.75,"x":0.08,"y":0.76},{"l":0.75,"x":0.137,"y":0.81},{"l":0.75,"x":0.228,"y":0.835},{"l":0.75,"x":0.342,"y":0.85},{"l":0.75,"x":0.513,"y":0.875},{"l":0.75,"x":0.569,"y":0.897},{"l":0.75,"x":0.598,"y":0.937},{"l":0.75,"x":0.604,"y":0.986},{"l":0.75,"x":0,"y":0.986},{"l":0.75,"x":0,"y":0},
{"l":0.8,"x":0.026,"y":0},{"l":0.8,"x":0.028,"y":0.3},{"l":0.8,"x":0.034,"y":0.55},{"l":0.8,"x":0.05,"y":0.72},{"l":0.8,"x":0.08,"y":0.8},{"l":0.8,"x":0.14,"y":0.86},{"l":0.8,"x":0.22,"y":0.885},{"l":0.8,"x":0.33,"y":0.9},{"l":0.8,"x":0.39,"y":0.94},{"l":0.8,"x":0.4,"y":0.986},{"l":0.8,"x":0,"y":0.986},{"l":0.8,"x":0,"y":0},
{"l":0.85,"x":0.02,"y":0},{"l":0.85,"x":0.022,"y":0.3},{"l":0.85,"x":0.027,"y":0.55},{"l":0.85,"x":0.04,"y":0.75},{"l":0.85,"x":0.08,"y":0.823},{"l":0.85,"x":0.137,"y":0.885},{"l":0.85,"x":0.222,"y":0.914},{"l":0.85,"x":0.256,"y":0.971},{"l":0.85,"x":0.26,"y":0.986},{"l":0.85,"x":0,"y":0.986},{"l":0.85,"x":0,"y":0},
{"l":0.9,"x":0.015,"y":0},{"l":0.9,"x":0.016,"y":0.3},{"l":0.9,"x":0.02,"y":0.55},{"l":0.9,"x":0.03,"y":0.77},{"l":0.9,"x":0.068,"y":0.862},{"l":0.9,"x":0.131,"y":0.937},{"l":0.9,"x":0.154,"y":0.986},{"l":0.9,"x":0,"y":0.986},{"l":0.9,"x":0,"y":0},
{"l":0.95,"x":0.008,"y":0},{"l":0.95,"x":0.009,"y":0.3},{"l":0.95,"x":0.012,"y":0.55},{"l":0.95,"x":0.016,"y":0.75},{"l":0.95,"x":0.034,"y":0.85},{"l":0.95,"x":0.05,"y":0.9},{"l":0.95,"x":0.068,"y":0.95},{"l":0.95,"x":0.071,"y":0.986},{"l":0.95,"x":0,"y":0.986},{"l":0.95,"x":0,"y":0}]},
"vconcat":[
{"width":316,"height":288.5,"layer":[
{"data":{"name":"b"},"transform":[{"window":[{"op":"row_number","as":"i"}]}],"mark":{"type":"line","filled":true,"strokeWidth":0},"encoding":{"x":{"field":"x","type":"quantitative","scale":{"domain":[0,1.085],"nice":false,"zero":false},"axis":{"title":"X","format":".1~f","values":[0,0.2,0.4,0.6,0.8,1],"labelPadding":10,"titlePadding":0}},"y":{"field":"y","type":"quantitative","scale":{"domain":[0,0.988],"nice":false,"zero":false},"axis":{"title":"Y","format":".1~f","values":[0,0.2,0.4,0.6,0.8],"labelPadding":9.5,"titlePadding":4}},"order":{"field":"i","type":"quantitative"},"color":{"field":"l","type":"ordinal","scale":{"domain":[0.95,0.9,0.85,0.8,0.75,0.7,0.65,0.6,0.55,0.5,0.45,0.4,0.35,0.3,0.25,0.2,0.15,0.1,0.05,0],"range":["#ff0000","#ff3600","#ff6b00","#ffa100","#ffd700","#f1ff00","#bcff00","#86ff00","#51ff00","#1bff00","#00ff1b","#00ff51","#00ff86","#00ffbc","#00fff1","#00d7ff","#00a1ff","#006bff","#0036ff","#0000ff"]},"legend":{"legendX":298.2,"legendY":28.5,"title":".","titleFontSize":4,"titleColor":"white","titlePadding":0.4,"fillColor":"white","strokeColor":"#999","symbolStrokeWidth":0,"symbolType":"M-0.54,-1.07H2.2V1.07H-0.54Z","labelExpr":"'        '","encoding":{"symbols":{"shape":{"value":{"signal":"datum.value==0.95?'M-0.54,-0.27H2.2V1.07H-0.54Z':datum.value==0?'M-0.54,-1.07H2.2V-0.25H-0.54Z':'M-0.54,-1.07H2.2V1.07H-0.54Z'"}}}}}},"stroke":{"field":"l","type":"ordinal","scale":{"domain":[0.95,0.9,0.85,0.8,0.75,0.7,0.65,0.6,0.55,0.5,0.45,0.4,0.35,0.3,0.25,0.2,0.15,0.1,0.05],"range":["#333333"]},"legend":{"legendX":298.2,"legendY":39.55,"title":null,"rowPadding":1.3,"symbolStrokeWidth":0.5,"symbolType":"M-0.54,0H2.2"}}}},
{"data":{"name":"xm"},"mark":{"type":"rule","color":"#111","strokeWidth":1},"encoding":{"x":{"field":"v","type":"quantitative","scale":{"domain":[0,1.085],"nice":false,"zero":false}},"y":{"datum":0,"type":"quantitative","scale":{"domain":[0,0.988],"nice":false,"zero":false}},"y2":{"datum":0.011}}},
{"data":{"name":"ym"},"mark":{"type":"rule","color":"#111","strokeWidth":1},"encoding":{"y":{"field":"v","type":"quantitative","scale":{"domain":[0,0.988],"nice":false,"zero":false}},"x":{"datum":0,"type":"quantitative","scale":{"domain":[0,1.085],"nice":false,"zero":false}},"x2":{"datum":0.011}}},
{"data":{"values":[{"a":1}]},"mark":{"type":"rule","color":"#e0202a","strokeWidth":2},"encoding":{"x":{"datum":1,"type":"quantitative","scale":{"domain":[0,1.085],"nice":false,"zero":false}},"y":{"datum":0,"type":"quantitative","scale":{"domain":[0,0.988],"nice":false,"zero":false}},"y2":{"datum":0.988}}},
{"data":{"values":[{"a":1}]},"mark":{"type":"rule","color":"#e0202a","strokeWidth":2},"encoding":{"y":{"datum":0.988,"type":"quantitative","scale":{"domain":[0,0.988],"nice":false,"zero":false}},"x":{"datum":0,"type":"quantitative","scale":{"domain":[0,1.085],"nice":false,"zero":false}},"x2":{"datum":1}}},
{"data":{"values":[{"t":"Dimensionless\ntemperature"}]},"mark":{"type":"text","font":"Liberation Serif","fontSize":9,"lineHeight":9,"lineBreak":"\n","align":"left","baseline":"top","color":"#222"},"encoding":{"text":{"field":"t"},"x":{"datum":1.018,"type":"quantitative","scale":{"domain":[0,1.085],"nice":false,"zero":false}},"y":{"datum":0.964,"type":"quantitative","scale":{"domain":[0,0.988],"nice":false,"zero":false}}}},
{"data":{"values":[{"t":"(b)After calculating 10,000 steps"}]},"mark":{"type":"text","font":"Liberation Serif","fontSize":26.5,"align":"center","baseline":"middle","color":"#111"},"encoding":{"text":{"field":"t"},"x":{"datum":0.541,"type":"quantitative","scale":{"domain":[0,1.085],"nice":false,"zero":false}},"y":{"datum":-0.163,"type":"quantitative","scale":{"domain":[0,0.988],"nice":false,"zero":false}}}}
]},
{"width":316,"height":293.4,"layer":[
{"data":{"name":"c"},"transform":[{"window":[{"op":"row_number","as":"i"}]}],"mark":{"type":"line","filled":true,"strokeWidth":0},"encoding":{"x":{"field":"x","type":"quantitative","scale":{"domain":[0,1.085],"range":[4.8,314.5],"nice":false,"zero":false},"axis":{"title":"X","format":".1~f","values":[0,0.2,0.4,0.6,0.8,1],"labelPadding":10,"titlePadding":0,"offset":-12.4}},"y":{"field":"y","type":"quantitative","scale":{"domain":[0,0.986],"range":[281,0],"nice":false,"zero":false},"axis":{"title":"Y","format":".1~f","values":[0,0.2,0.4,0.6,0.8],"labelPadding":9.5,"titlePadding":4,"offset":-4.8}},"order":{"field":"i","type":"quantitative"},"color":{"field":"l","type":"ordinal","scale":{"domain":[0.95,0.9,0.85,0.8,0.75,0.7,0.65,0.6,0.55,0.5,0.45,0.4,0.35,0.3,0.25,0.2,0.15,0.1,0.05,0],"range":["#ff0000","#ff3600","#ff6b00","#ffa100","#ffd700","#f1ff00","#bcff00","#86ff00","#51ff00","#1bff00","#00ff1b","#00ff51","#00ff86","#00ffbc","#00fff1","#00d7ff","#00a1ff","#006bff","#0036ff","#0000ff"]},"legend":{"legendX":297.5,"legendY":27.2,"title":".","titleFontSize":4,"titleColor":"white","titlePadding":0.4,"fillColor":"white","strokeColor":"#999","symbolStrokeWidth":0,"symbolType":"M-0.54,-1.04H2.2V1.04H-0.54Z","labelExpr":"'        '","encoding":{"symbols":{"shape":{"value":{"signal":"datum.value==0.95?'M-0.54,-0.27H2.2V1.04H-0.54Z':datum.value==0?'M-0.54,-1.04H2.2V-0.25H-0.54Z':'M-0.54,-1.04H2.2V1.04H-0.54Z'"}}}}}},"stroke":{"field":"l","type":"ordinal","scale":{"domain":[0.95,0.9,0.85,0.8,0.75,0.7,0.65,0.6,0.55,0.5,0.45,0.4,0.35,0.3,0.25,0.2,0.15,0.1,0.05],"range":["#333333"]},"legend":{"legendX":297.5,"legendY":38.75,"title":null,"rowPadding":1,"symbolStrokeWidth":0.5,"symbolType":"M-0.54,0H2.2"}}}},
{"data":{"name":"xm"},"mark":{"type":"rule","color":"#111","strokeWidth":1},"encoding":{"x":{"field":"v","type":"quantitative","scale":{"domain":[0,1.085],"range":[4.8,314.5],"nice":false,"zero":false}},"y":{"datum":0,"type":"quantitative","scale":{"domain":[0,0.986],"range":[281,0],"nice":false,"zero":false}},"y2":{"datum":0.011}}},
{"data":{"name":"ym"},"mark":{"type":"rule","color":"#111","strokeWidth":1},"encoding":{"y":{"field":"v","type":"quantitative","scale":{"domain":[0,0.986],"range":[281,0],"nice":false,"zero":false}},"x":{"datum":0,"type":"quantitative","scale":{"domain":[0,1.085],"range":[4.8,314.5],"nice":false,"zero":false}},"x2":{"datum":0.011}}},
{"data":{"values":[{"a":1}]},"mark":{"type":"rule","color":"#e0202a","strokeWidth":2},"encoding":{"x":{"datum":1,"type":"quantitative","scale":{"domain":[0,1.085],"range":[4.8,314.5],"nice":false,"zero":false}},"y":{"datum":0,"type":"quantitative","scale":{"domain":[0,0.986],"range":[281,0],"nice":false,"zero":false}},"y2":{"datum":0.986}}},
{"data":{"values":[{"a":1}]},"mark":{"type":"rule","color":"#e0202a","strokeWidth":2},"encoding":{"y":{"datum":0.986,"type":"quantitative","scale":{"domain":[0,0.986],"range":[281,0],"nice":false,"zero":false}},"x":{"datum":0,"type":"quantitative","scale":{"domain":[0,1.085],"range":[4.8,314.5],"nice":false,"zero":false}},"x2":{"datum":1}}},
{"data":{"values":[{"t":"Dimensionless\ntemperature"}]},"mark":{"type":"text","font":"Liberation Serif","fontSize":9,"lineHeight":9,"lineBreak":"\n","align":"left","baseline":"top","color":"#222"},"encoding":{"text":{"field":"t"},"x":{"datum":1.015,"type":"quantitative","scale":{"domain":[0,1.085],"range":[4.8,314.5],"nice":false,"zero":false}},"y":{"datum":0.956,"type":"quantitative","scale":{"domain":[0,0.986],"range":[281,0],"nice":false,"zero":false}}}},
{"data":{"values":[{"t":"(c)After calculating 40,000 steps"}]},"mark":{"type":"text","font":"Liberation Serif","fontSize":26.5,"align":"center","baseline":"middle","color":"#111"},"encoding":{"text":{"field":"t"},"x":{"datum":0.533,"type":"quantitative","scale":{"domain":[0,1.085],"range":[4.8,314.5],"nice":false,"zero":false}},"y":{"datum":-0.174,"type":"quantitative","scale":{"domain":[0,0.986],"range":[281,0],"nice":false,"zero":false}}}}
]},
{"width":317.5,"height":288.3,"layer":[
{"data":{"name":"d"},"transform":[{"window":[{"op":"row_number","as":"i"}]}],"mark":{"type":"line","filled":true,"strokeWidth":0},"encoding":{"x":{"field":"x","type":"quantitative","scale":{"domain":[0,1.085],"range":[0.5,318.1],"nice":false,"zero":false},"axis":{"title":"X","format":".1~f","values":[0,0.2,0.4,0.6,0.8,1],"labelPadding":10,"titlePadding":0}},"y":{"field":"y","type":"quantitative","scale":{"domain":[0,0.986],"nice":false,"zero":false},"axis":{"title":"Y","format":".1~f","values":[0,0.2,0.4,0.6,0.8],"labelPadding":9.5,"titlePadding":4,"offset":-0.5}},"order":{"field":"i","type":"quantitative"},"color":{"field":"l","type":"ordinal","scale":{"domain":[0.95,0.9,0.85,0.8,0.75,0.7,0.65,0.6,0.55,0.5,0.45,0.4,0.35,0.3,0.25,0.2,0.15,0.1,0.05,0],"range":["#ff0000","#ff3600","#ff6b00","#ffa100","#ffd700","#f1ff00","#bcff00","#86ff00","#51ff00","#1bff00","#00ff1b","#00ff51","#00ff86","#00ffbc","#00fff1","#00d7ff","#00a1ff","#006bff","#0036ff","#0000ff"]},"legend":{"legendX":300.8,"legendY":27.8,"title":".","titleFontSize":4,"titleColor":"white","titlePadding":0.4,"fillColor":"white","strokeColor":"#999","symbolStrokeWidth":0,"symbolType":"M-0.54,-1.068H2.2V1.068H-0.54Z","labelExpr":"'        '","encoding":{"symbols":{"shape":{"value":{"signal":"datum.value==0.95?'M-0.54,-0.27H2.2V1.068H-0.54Z':datum.value==0?'M-0.54,-1.068H2.2V-0.25H-0.54Z':'M-0.54,-1.068H2.2V1.068H-0.54Z'"}}}}}},"stroke":{"field":"l","type":"ordinal","scale":{"domain":[0.95,0.9,0.85,0.8,0.75,0.7,0.65,0.6,0.55,0.5,0.45,0.4,0.35,0.3,0.25,0.2,0.15,0.1,0.05],"range":["#333333"]},"legend":{"legendX":300.8,"legendY":39.36,"title":null,"rowPadding":1.28,"symbolStrokeWidth":0.5,"symbolType":"M-0.54,0H2.2"}}}},
{"data":{"name":"xm"},"mark":{"type":"rule","color":"#111","strokeWidth":1},"encoding":{"x":{"field":"v","type":"quantitative","scale":{"domain":[0,1.085],"range":[0.5,318.1],"nice":false,"zero":false}},"y":{"datum":0,"type":"quantitative","scale":{"domain":[0,0.986],"nice":false,"zero":false}},"y2":{"datum":0.011}}},
{"data":{"name":"ym"},"mark":{"type":"rule","color":"#111","strokeWidth":1},"encoding":{"y":{"field":"v","type":"quantitative","scale":{"domain":[0,0.986],"nice":false,"zero":false}},"x":{"datum":0,"type":"quantitative","scale":{"domain":[0,1.085],"range":[0.5,318.1],"nice":false,"zero":false}},"x2":{"datum":0.011}}},
{"data":{"values":[{"a":1}]},"mark":{"type":"rule","color":"#e0202a","strokeWidth":2},"encoding":{"x":{"datum":1,"type":"quantitative","scale":{"domain":[0,1.085],"range":[0.5,318.1],"nice":false,"zero":false}},"y":{"datum":0,"type":"quantitative","scale":{"domain":[0,0.986],"nice":false,"zero":false}},"y2":{"datum":0.986}}},
{"data":{"values":[{"a":1}]},"mark":{"type":"rule","color":"#e0202a","strokeWidth":2},"encoding":{"y":{"datum":0.986,"type":"quantitative","scale":{"domain":[0,0.986],"nice":false,"zero":false}},"x":{"datum":0,"type":"quantitative","scale":{"domain":[0,1.085],"range":[0.5,318.1],"nice":false,"zero":false}},"x2":{"datum":1}}},
{"data":{"values":[{"t":"Dimensionless\ntemperature"}]},"mark":{"type":"text","font":"Liberation Serif","fontSize":9,"lineHeight":9,"lineBreak":"\n","align":"left","baseline":"top","color":"#222"},"encoding":{"text":{"field":"t"},"x":{"datum":1.017,"type":"quantitative","scale":{"domain":[0,1.085],"range":[0.5,318.1],"nice":false,"zero":false}},"y":{"datum":0.958,"type":"quantitative","scale":{"domain":[0,0.986],"nice":false,"zero":false}}}},
{"data":{"values":[{"t":"(d)After calculating 50,000 steps"}]},"mark":{"type":"text","font":"Liberation Serif","fontSize":26.5,"align":"center","baseline":"middle","color":"#111"},"encoding":{"text":{"field":"t"},"x":{"datum":0.536,"type":"quantitative","scale":{"domain":[0,1.085],"range":[0.5,318.1],"nice":false,"zero":false}},"y":{"datum":-0.174,"type":"quantitative","scale":{"domain":[0,0.986],"nice":false,"zero":false}}}}
]}
]}
